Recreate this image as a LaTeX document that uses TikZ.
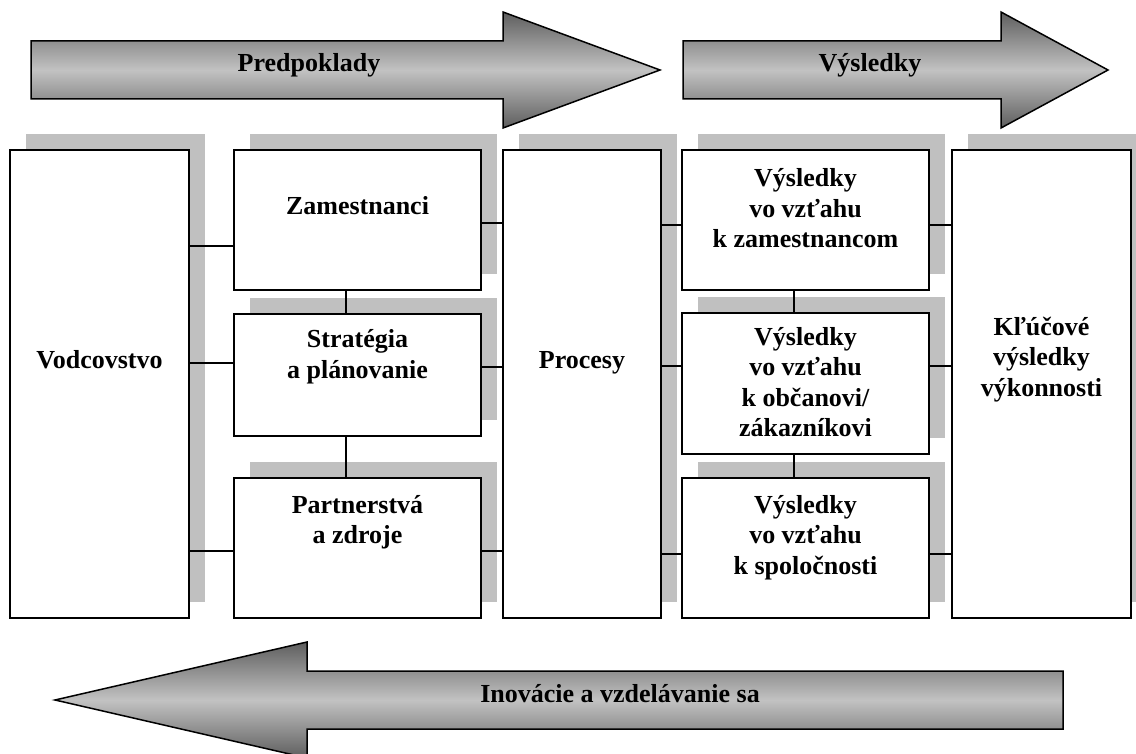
\documentclass[tikz,border=0pt]{standalone}
\usepackage{fontspec}
\setmainfont{Liberation Serif}
\usetikzlibrary{shadows}
\definecolor{shadowgray}{HTML}{C0C0C0}
\definecolor{arrowdark}{HTML}{5E5E5E}
\definecolor{arrowlight}{HTML}{C2C2C2}
\newcommand{\bxtext}[4]{\parbox[t][#2pt][t]{#1pt}{\centering\fontsize{26}{30.5}\selectfont\bfseries\lineskiplimit=-100pt\rule{0pt}{#3pt}#4}}
\tikzset{
  boxnode/.style={draw=black, line width=1.6pt, fill=white, inner sep=0pt, outer sep=0pt, anchor=north west,
    drop shadow={shadow xshift=16pt, shadow yshift=16pt, fill=shadowgray, opacity=1}},
  conn/.style={draw=black, line width=1.5pt},
  bigarrow/.style={draw=black, line width=1.5pt, line join=miter, top color=arrowdark, bottom color=arrowdark, middle color=arrowlight},
  arrowlabel/.style={font=\fontsize{26}{30}\selectfont\bfseries, inner sep=0pt, anchor=base}
}
\begin{document}
\begin{tikzpicture}[x=1pt,y=-1pt]
\path[use as bounding box, fill=white] (0,0) rectangle (1136,754);
% big arrows
\path[bigarrow] (31,41) -- (503,41) -- (503,12) -- (660,70) -- (503,128) -- (503,99) -- (31,99) -- cycle;
\path[bigarrow] (683,41) -- (1001,41) -- (1001,12) -- (1108,70) -- (1001,128) -- (1001,99) -- (683,99) -- cycle;
\path[bigarrow] (1063,671) -- (307,671) -- (307,642) -- (55,700) -- (307,758) -- (307,729) -- (1063,729) -- cycle;
\node[arrowlabel] (lpre) at (309,72) {Predpoklady};
\node[arrowlabel] (lvys) at (870,72) {Výsledky};
\node[arrowlabel] (linov) at (620,702) {Inovácie a vzdelávanie sa};
% boxes
\node[boxnode] (V) at (10,150) {\bxtext{179}{468}{218}{Vodcovstvo}};
\node[boxnode] (Z) at (234,150) {\bxtext{247}{140}{65}{Zamestnanci}};
\node[boxnode] (S) at (234,314) {\bxtext{247}{122}{34}{Stratégia\\a plánovanie}};
\node[boxnode] (P) at (234,478) {\bxtext{247}{140}{35}{Partnerstvá\\a zdroje}};
\node[boxnode] (Pr) at (503,150) {\bxtext{158}{468}{218}{Procesy}};
\node[boxnode] (R1) at (682,150) {\bxtext{247}{140}{37}{Výsledky\\vo vzťahu\\k zamestnancom}};
\node[boxnode] (R2) at (682,313) {\bxtext{247}{141}{32}{Výsledky\\vo vzťahu\\k občanovi/\\zákazníkovi}};
\node[boxnode] (R3) at (682,478) {\bxtext{247}{140}{35}{Výsledky\\vo vzťahu\\k spoločnosti}};
\node[boxnode] (K) at (952,150) {\bxtext{179}{468}{185}{Kľúčové\\výsledky\\výkonnosti}};
% connectors
\draw[conn] (V.east |- 0,246) -- (Z.west |- 0,246);
\draw[conn] (V.east |- 0,363) -- (S.west |- 0,363);
\draw[conn] (V.east |- 0,551) -- (P.west |- 0,551);
\draw[conn] (Z.east |- 0,223) -- (Pr.west |- 0,223);
\draw[conn] (S.east |- 0,367) -- (Pr.west |- 0,367);
\draw[conn] (P.east |- 0,551) -- (Pr.west |- 0,551);
\draw[conn] (Pr.east |- 0,225) -- (R1.west |- 0,225);
\draw[conn] (Pr.east |- 0,366) -- (R2.west |- 0,366);
\draw[conn] (Pr.east |- 0,554) -- (R3.west |- 0,554);
\draw[conn] (R1.east |- 0,225) -- (K.west |- 0,225);
\draw[conn] (R2.east |- 0,366) -- (K.west |- 0,366);
\draw[conn] (R3.east |- 0,554) -- (K.west |- 0,554);
\draw[conn] (Z.south -| 346,0) -- (S.north -| 346,0);
\draw[conn] (S.south -| 346,0) -- (P.north -| 346,0);
\draw[conn] (R1.south -| 794,0) -- (R2.north -| 794,0);
\draw[conn] (R2.south -| 794,0) -- (R3.north -| 794,0);
\end{tikzpicture}
\end{document}
